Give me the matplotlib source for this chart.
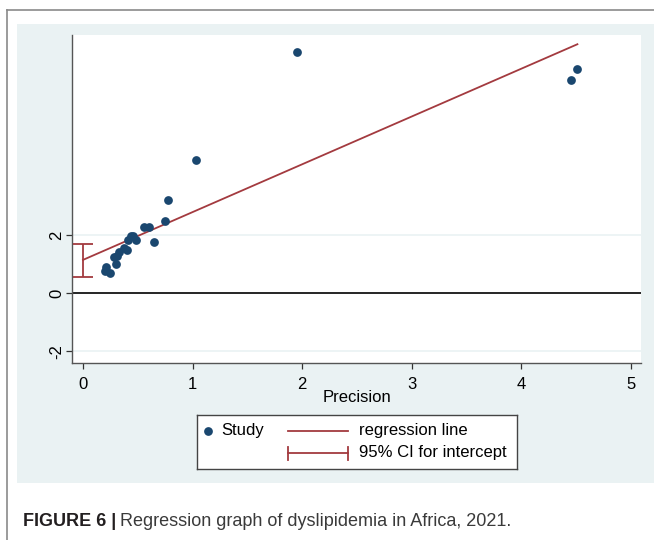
import matplotlib
matplotlib.use("Agg")
import matplotlib.pyplot as plt
from matplotlib.patches import Rectangle
from matplotlib.lines import Line2D

# ---- data ----
precision = [0.773, 0.751, 0.651, 0.559, 0.601, 0.459, 0.481, 0.414, 0.438,
             0.398, 0.377, 0.328, 0.307, 0.283, 0.298, 0.210, 0.201, 0.246,
             1.03, 1.955, 4.51, 4.45]
std_effect = [3.23, 2.48, 1.76, 2.27, 2.27, 1.99, 1.84, 1.84, 1.96,
              1.50, 1.56, 1.41, 1.30, 1.25, 1.00, 0.89, 0.77, 0.71,
              4.61, 8.33, 7.73, 7.35]
intercept = 1.15
slope = 1.65
ci_low, ci_high = 0.57, 1.70
x_ticks = [0, 1, 2, 3, 4, 5]
y_ticks = [-2, 0, 2]
x_label = "Precision"
legend_labels = ["Study", "regression line", "95% CI for intercept"]
caption_bold = "FIGURE 6 |"
caption_text = "Regression graph of dyslipidemia in Africa, 2021."

W, H = 654, 540
NAVY = "#1a476f"
MAROON = "#a33a3f"
BG = "#eaf2f3"
plt.rcParams['font.family'] = ['Liberation Sans', 'DejaVu Sans']

fig = plt.figure(figsize=(W / 100, H / 100), dpi=100)
fig.patch.set_facecolor("white")

def fx(px):
    return px / W

def fy(py):
    return 1 - py / H

# outer page frame lines (top and left)
fig.add_artist(Line2D([fx(7), fx(654)], [fy(10), fy(10)], color="#8a8a8a", lw=1.2))
fig.add_artist(Line2D([fx(7), fx(7)], [fy(10), fy(540)], color="#8a8a8a", lw=1.2))
# graph background
fig.add_artist(Rectangle((fx(17), fy(483)), fx(654 - 17), (483 - 24) / H,
                         facecolor=BG, edgecolor="none", zorder=0))

ax = fig.add_axes([fx(72), fy(362.5), fx(641 - 72), (362.5 - 35) / H])
ax.set_facecolor("white")
ax.set_xlim(-0.10, 5.09)
ax.set_ylim(-2.39, 8.91)

for yv in y_ticks:
    if yv != 0:
        ax.axhline(yv, color=BG, lw=1.2, zorder=1)
ax.axhline(0, color="black", lw=1.2, zorder=2)

xr = [0, max(precision)]
ax.plot(xr, [intercept + slope * x for x in xr], color=MAROON, lw=1.3, zorder=3)
ax.errorbar([0], [(ci_low + ci_high) / 2], yerr=[[(ci_high - ci_low) / 2]],
            fmt="none", ecolor=MAROON, elinewidth=1.3, capsize=7, capthick=1.3, zorder=3)
ax.plot(precision, std_effect, linestyle="none", marker="o", markersize=6.3,
        color=NAVY, markeredgewidth=0, zorder=4)

ax.set_xticks(x_ticks)
ax.set_yticks(y_ticks)
ax.set_yticklabels([str(v) for v in y_ticks], rotation=90, va="center")
ax.tick_params(axis="both", labelsize=12, length=4.3, width=0.9, color="#333333",
               labelcolor="black")
ax.tick_params(axis="x", pad=6)
ax.tick_params(axis="y", pad=1.5)
for s in ["top", "right"]:
    ax.spines[s].set_visible(False)
for s in ["left", "bottom"]:
    ax.spines[s].set_color("#555555")
    ax.spines[s].set_linewidth(1.0)
ax.set_xlabel(x_label, fontsize=12, labelpad=-1)

# legend box (manual, Stata-style)
lax = fig.add_axes([fx(197), fy(469), fx(517 - 197), (469 - 415) / H])
lax.set_xlim(197, 517)
lax.set_ylim(469, 415)
lax.set_xticks([])
lax.set_yticks([])
lax.set_facecolor("white")
for s in lax.spines.values():
    s.set_color("#444444")
    s.set_linewidth(1.0)
lax.plot([208], [431], marker="o", markersize=6.3, color=NAVY, markeredgewidth=0)
lax.text(221, 431, legend_labels[0], fontsize=12, va="center", ha="left")
lax.plot([288, 348], [431, 431], color=MAROON, lw=1.3)
lax.text(359, 431, legend_labels[1], fontsize=12, va="center", ha="left")
lax.plot([288, 348], [453, 453], color=MAROON, lw=1.3)
lax.plot([288, 288], [446.5, 459.5], color=MAROON, lw=1.3)
lax.plot([348, 348], [446.5, 459.5], color=MAROON, lw=1.3)
lax.text(359, 453, legend_labels[2], fontsize=12, va="center", ha="left")

# caption
cap_font = ['Liberation Sans Narrow', 'Liberation Sans', 'DejaVu Sans']
t1 = fig.text(fx(23), fy(522), caption_bold, fontsize=13, fontweight="bold",
              va="center", ha="left", color="#231f20", family=cap_font)
fig.canvas.draw()
bb = t1.get_window_extent(renderer=fig.canvas.get_renderer())
fig.text(bb.x1 / W + fx(4), fy(522), caption_text, fontsize=13, va="center",
         ha="left", color="#3a3a3a", family=cap_font)

fig.savefig("out.png", dpi=100)
